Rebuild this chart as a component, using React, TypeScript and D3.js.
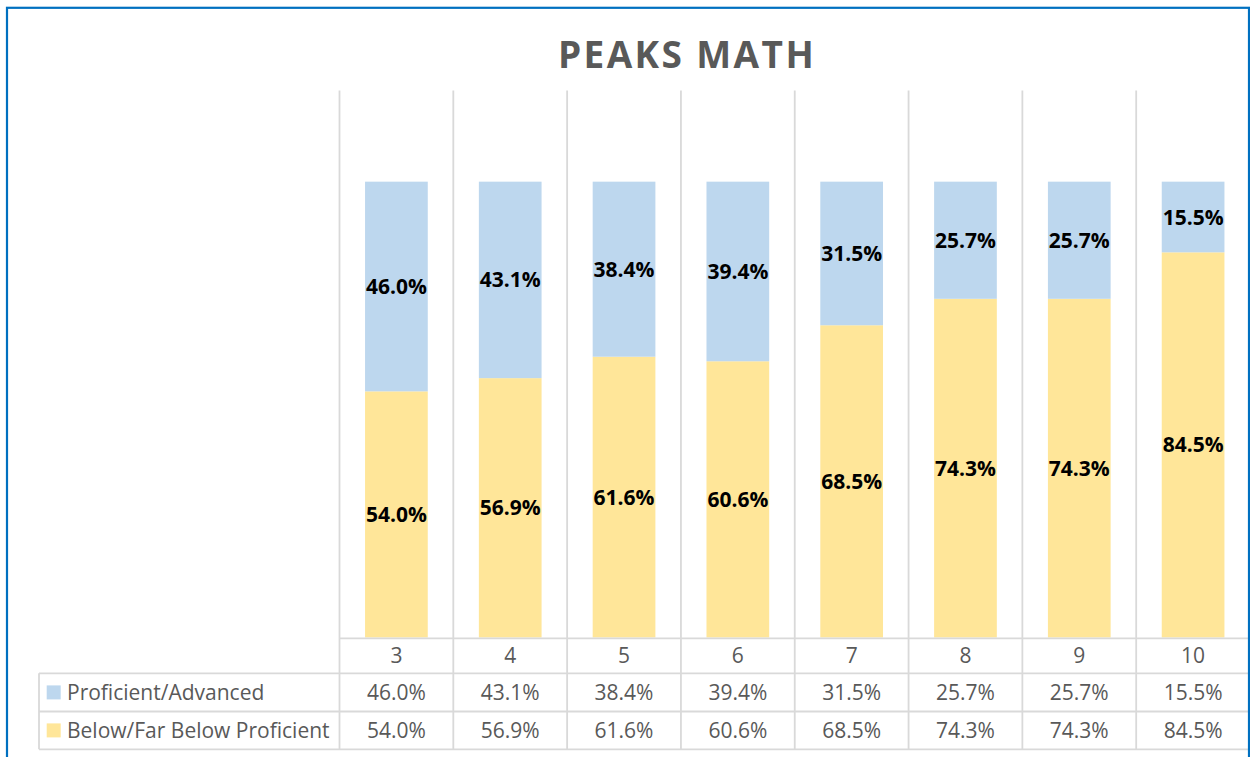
import React from "react";
import * as d3 from "d3";

const categories = ["3", "4", "5", "6", "7", "8", "9", "10"];
const proficient = [46.0, 43.1, 38.4, 39.4, 31.5, 25.7, 25.7, 15.5];
const below = [54.0, 56.9, 61.6, 60.6, 68.5, 74.3, 74.3, 84.5];
const seriesNames = ["Proficient/Advanced", "Below/Far Below Proficient"];
const seriesColors = ["#BDD7EE", "#FFE699"];

const W = 1250;
const H = 757;
const FONT = "'Open Sans', 'Noto Sans', sans-serif";

export default function App() {
  const x = d3.scaleBand<string>().domain(categories).range([339.5, 1250]).paddingInner(0).paddingOuter(0);
  const y = d3.scaleLinear().domain([0, 120]).range([637.5, 90.5]);
  const bw = x.bandwidth();
  const barW = bw * 0.551;

  const stack = d3
    .stack<any>()
    .keys(["below", "proficient"])(categories.map((c, i) => ({ cat: c, below: below[i], proficient: proficient[i] })));

  const rowTop = 638.3;
  const rowLines = [638.3, 673.3, 711.5, 749.3];
  const tableLeft = 39;
  const gridColor = "#d9d9d9";
  const textColor = "#595959";

  const fmt = (v: number) => v.toFixed(1) + "%";

  const rows = [
    { name: seriesNames[0], color: seriesColors[0], values: proficient },
    { name: seriesNames[1], color: seriesColors[1], values: below },
  ];

  return (
    <svg
      width={W}
      height={H}
      viewBox={`0 0 ${W} ${H}`}
      style={{ position: "absolute", left: 0, top: 0, background: "#fff" }}
    >
      <rect x={0} y={0} width={W} height={H} fill="#fff" />
      {/* title */}
      <text
        x={687}
        y={68.3}
        textAnchor="middle"
        fontFamily={FONT}
        fontWeight={700}
        fontSize={37}
        letterSpacing={2.4}
        fill={textColor}
      >
        PEAKS MATH
      </text>

      {/* vertical gridlines / table column lines */}
      {categories.map((c) => (
        <line
          key={"g" + c}
          x1={x(c)!}
          x2={x(c)!}
          y1={y(120)}
          y2={rowLines[3]}
          stroke={gridColor}
          strokeWidth={1.8}
        />
      ))}

      {/* bars */}
      {stack.map((layer) => {
        const color = layer.key === "below" ? seriesColors[1] : seriesColors[0];
        return (
          <g key={layer.key}>
            {layer.map((d: any, i: number) => (
              <rect
                key={i}
                x={x(categories[i])! + (bw - barW) / 2}
                y={y(d[1])}
                width={barW}
                height={y(d[0]) - y(d[1])}
                fill={color}
              />
            ))}
          </g>
        );
      })}

      {/* data labels */}
      {stack.map((layer) => (
        <g key={"l" + layer.key}>
          {layer.map((d: any, i: number) => (
            <text
              key={i}
              x={x(categories[i])! + bw / 2}
              y={(y(d[0]) + y(d[1])) / 2}
              dy="0.36em"
              textAnchor="middle"
              fontFamily={FONT}
              fontWeight={700}
              fontSize={21}
              fill="#000"
            >
              {fmt(d[1] - d[0])}
            </text>
          ))}
        </g>
      ))}

      {/* table horizontal lines */}
      <line x1={339.5} x2={W} y1={rowLines[0]} y2={rowLines[0]} stroke={gridColor} strokeWidth={1.8} />
      {rowLines.slice(1).map((ly, i) => (
        <line key={"h" + i} x1={tableLeft} x2={W} y1={ly} y2={ly} stroke={gridColor} strokeWidth={1.8} />
      ))}
      <line x1={tableLeft} x2={tableLeft} y1={rowLines[1]} y2={rowLines[3]} stroke={gridColor} strokeWidth={1.8} />

      {/* category labels */}
      {categories.map((c) => (
        <text
          key={"c" + c}
          x={x(c)! + bw / 2}
          y={(rowLines[0] + rowLines[1]) / 2}
          dy="0.36em"
          textAnchor="middle"
          fontFamily={FONT}
          fontSize={21}
          fill={textColor}
        >
          {c}
        </text>
      ))}

      {/* table rows */}
      {rows.map((r, ri) => {
        const cy = (rowLines[ri + 1] + rowLines[ri + 2]) / 2;
        return (
          <g key={"r" + ri}>
            <rect x={46.7} y={cy - 7} width={14} height={14} fill={r.color} />
            <text x={67} y={cy} dy="0.36em" fontFamily={FONT} fontSize={21} fill={textColor}>
              {r.name}
            </text>
            {r.values.map((v, i) => (
              <text
                key={i}
                x={x(categories[i])! + bw / 2}
                y={cy}
                dy="0.36em"
                textAnchor="middle"
                fontFamily={FONT}
                fontSize={21}
                fill={textColor}
              >
                {fmt(v)}
              </text>
            ))}
          </g>
        );
      })}

      {/* outer border */}
      <rect x={7} y={7.8} width={1242} height={800} fill="none" stroke="#0070C0" strokeWidth={2.2} />
    </svg>
  );
}
